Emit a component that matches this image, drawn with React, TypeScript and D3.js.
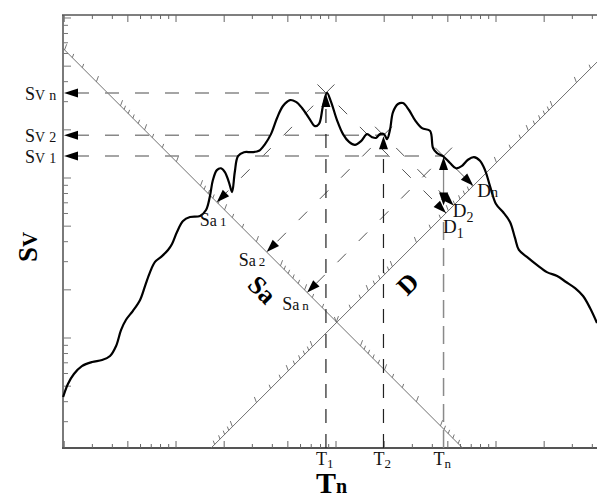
import * as d3 from 'd3';

// period (s) and pseudo-velocity of the response spectrum
const periods = [
  0.0197, 0.0211, 0.023, 0.0258, 0.0299, 0.0345, 0.0387, 0.0422, 0.0453, 0.0487,
  0.0538, 0.0596, 0.064, 0.0688, 0.0739, 0.0817, 0.0891, 0.0944, 0.1014, 0.1106,
  0.1223, 0.1413, 0.154, 0.163, 0.17, 0.18, 0.191, 0.202, 0.214, 0.224,
  0.233, 0.244, 0.266, 0.299, 0.33, 0.36, 0.392, 0.428, 0.466, 0.516,
  0.562, 0.613, 0.678, 0.739, 0.783, 0.829, 0.878, 0.931, 1.014, 1.106,
  1.206, 1.314, 1.433, 1.562, 1.679, 1.778, 1.883, 1.995, 2.084, 2.175,
  2.271, 2.44, 2.62, 2.858, 3.117, 3.447, 3.87, 4.04, 4.28, 4.66,
  5.16, 5.62, 6.13, 6.68, 7.28, 7.94, 8.54, 9.17, 10.0, 11.06,
  12.23, 13.14, 13.9, 15.6, 18.0, 20.8, 24.1, 27.4, 31.2, 35.0,
  38.7, 42.8,
];
const pseudoVelocity = [
  4.28, 5.16, 5.96, 6.68, 7.08, 7.28, 7.72, 8.91, 11.2, 13.0,
  14.8, 17.3, 21.1, 25.8, 29.9, 32.5, 35.5, 38.7, 46.0, 53.8,
  57.0, 57.9, 63.1, 77.2, 97.1, 112, 115, 109, 94.4, 81.7,
  109, 137, 145, 145, 148, 163, 188, 237, 282, 307,
  299, 274, 237, 211, 218, 282, 340, 299, 230, 188,
  168, 161, 170, 188, 180, 178, 188, 188, 175, 200,
  258, 290, 294, 266, 230, 205, 197, 154, 143, 137,
  124, 115, 119, 130, 135, 128, 112, 89.1, 68.8, 61.3,
  53.1, 42.2, 35.5, 32.1, 28.6, 25.8, 24.4, 22.4, 20.5, 18.3,
  15.4, 12.4,
];

// the three marked points on the spectrum
const markPeriods = [0.865, 1.98, 4.7];
const markSv = [340, 185, 137];
const tSubs = ['1', '2', 'n'];
const svSubs = ['n', '2', '1'];
const saSubs = ['1', '2', 'n'];
const dSubs = ['1', '2', 'n'];

// the diagonal axes: Sa axis runs along Sv*T = const, D axis along Sv/T = const
const SA_AXIS_K = 12.7;
const D_AXIS_K = 12.4;

const W = 597;
const H = 496;
const left = 63;
const top = 15;
const bottom = 448;
const FONT = '"Liberation Serif", "Times New Roman", serif';

const x = d3.scaleLog().domain([0.01966, 42.78]).range([left, W]);
const y = d3.scaleLog().domain([2.054, 1044]).range([bottom, top]);

const mant = (v: number) => Math.round(v / Math.pow(10, Math.floor(Math.log10(v) + 1e-9)));
const isLong = (v: number) => [1, 2, 5].includes(mant(v));

function arrowHead(tx: number, ty: number, ux: number, uy: number, len = 12, half = 4) {
  const bx = tx - ux * len;
  const by = ty - uy * len;
  const nx = -uy;
  const ny = ux;
  return `M${tx},${ty}L${bx + nx * half},${by + ny * half}L${bx - nx * half},${by - ny * half}Z`;
}

export default function App() {
  const line = d3
    .line<number>()
    .x((_, i) => x(periods[i]))
    .y((_, i) => y(pseudoVelocity[i]))
    .curve(d3.curveCatmullRom.alpha(0.5));

  const xTicks = x.ticks().filter((t) => x(t) >= left - 0.5 && x(t) <= W);
  const yTicks = y.ticks().filter((t) => y(t) <= bottom && y(t) >= top);

  // Sa axis (value = Sv / (2 pi T)) along Sv*T = SA_AXIS_K
  const saPoint = (a: number) => {
    const T = Math.sqrt(SA_AXIS_K / (2 * Math.PI * a));
    return [x(T), y(SA_AXIS_K / T)];
  };
  const saT0 = x.domain()[0];
  const saT1 = SA_AXIS_K / y.domain()[0];
  const saScale = d3
    .scaleLog()
    .domain([SA_AXIS_K / (2 * Math.PI * saT1 * saT1), SA_AXIS_K / (2 * Math.PI * saT0 * saT0)]);
  const saTicks = saScale.ticks();

  // D axis (value = Sv T / (2 pi)) along Sv/T = D_AXIS_K
  const dPoint = (dv: number) => {
    const T = Math.sqrt((2 * Math.PI * dv) / D_AXIS_K);
    return [x(T), y(D_AXIS_K * T)];
  };
  const dT0 = y.domain()[0] / D_AXIS_K;
  const dT1 = x.domain()[1];
  const dScale = d3
    .scaleLog()
    .domain([(D_AXIS_K * dT0 * dT0) / (2 * Math.PI), (D_AXIS_K * dT1 * dT1) / (2 * Math.PI)]);
  const dTicks = dScale.ticks();

  const saA = [x(saT0), y(SA_AXIS_K / saT0)];
  const saB = [x(saT1), y(SA_AXIS_K / saT1)];
  const dA = [x(dT0), y(D_AXIS_K * dT0)];
  const dB = [x(dT1), y(D_AXIS_K * dT1)];

  const marks = markPeriods.map((T, i) => {
    const sv = markSv[i];
    const px = x(T);
    const py = y(sv);
    // constant-Sa line to the Sa axis
    const r = sv / T;
    const Ta = Math.sqrt(SA_AXIS_K / r);
    const saHit = [x(Ta), y(r * Ta)];
    const saExt = [x(T * 1.13), y(sv * 1.13)];
    // constant-D line to the D axis
    const q = sv * T;
    const Td = Math.sqrt(q / D_AXIS_K);
    const dHit = [x(Td), y(D_AXIS_K * Td)];
    const dExt = [x(T / 1.13), y(sv * 1.13)];
    return { px, py, saHit, saExt, dHit, dExt };
  });

  const diag = Math.SQRT1_2;
  const saLabelOff = [
    [-17, 24],
    [-28, 14],
    [-25, 17],
  ];
  const dLabelOff = [
    [-3, 20],
    [-1, 12],
    [4, 11],
  ];

  return (
    <svg
      width={W}
      height={H}
      style={{ position: 'absolute', left: 0, top: 0, background: '#fff' }}
      fontFamily={FONT}
    >
      {/* frame */}
      <line x1={left} y1={top} x2={left} y2={bottom} stroke="#7a7a7a" strokeWidth={2} />
      <line x1={left - 1} y1={bottom} x2={W} y2={bottom} stroke="#555" strokeWidth={2} />
      <line x1={left - 1} y1={top} x2={W} y2={top} stroke="#555" strokeWidth={1.5} />
      {xTicks.map((t, i) => {
        const len = isLong(t) ? 7 : 4;
        return (
          <g key={`xt${i}`} stroke="#666" strokeWidth={1}>
            <line x1={x(t)} y1={bottom} x2={x(t)} y2={bottom - len} />
            <line x1={x(t)} y1={top} x2={x(t)} y2={top + len} />
          </g>
        );
      })}
      {yTicks.map((t, i) => (
        <line
          key={`yt${i}`}
          x1={left}
          y1={y(t)}
          x2={left + (isLong(t) ? 8 : 5)}
          y2={y(t)}
          stroke="#777"
          strokeWidth={1}
        />
      ))}

      {/* diagonal axes */}
      <line x1={saA[0]} y1={saA[1]} x2={saB[0]} y2={saB[1]} stroke="#707070" strokeWidth={1} />
      <line x1={dA[0]} y1={dA[1]} x2={dB[0]} y2={dB[1]} stroke="#707070" strokeWidth={1} />
      {saTicks.map((a, i) => {
        const [sx, sy] = saPoint(a);
        if (sx < left || sy > bottom) return null;
        const len = isLong(a) ? 6 : 4;
        return (
          <line key={`sa${i}`} x1={sx} y1={sy} x2={sx + 0.35 * len} y2={sy - 0.94 * len} stroke="#666" strokeWidth={0.9} />
        );
      })}
      {dTicks.map((dv, i) => {
        const [sx, sy] = dPoint(dv);
        if (sx > W || sy > bottom) return null;
        const len = isLong(dv) ? 6 : 4;
        return (
          <line key={`dd${i}`} x1={sx} y1={sy} x2={sx - 0.35 * len} y2={sy - 0.94 * len} stroke="#666" strokeWidth={0.9} />
        );
      })}

      {/* construction lines */}
      {marks.map((m, i) => (
        <g key={`m${i}`}>
          {/* horizontal to Sv axis */}
          <line x1={left + 12} y1={m.py} x2={m.px} y2={m.py} stroke="#888" strokeWidth={1.5} strokeDasharray="14,16" />
          <path d={arrowHead(left + 1, m.py, -1, 0, 14, 4.5)} fill="#000" />
          {/* diagonal to Sa axis */}
          <line
            x1={m.saExt[0]}
            y1={m.saExt[1]}
            x2={m.saHit[0]}
            y2={m.saHit[1]}
            stroke="#555"
            strokeWidth={1}
            strokeDasharray="12,18"
          />
          <path d={arrowHead(m.saHit[0], m.saHit[1], -diag, diag, 13, 4.5)} fill="#000" />
          {/* diagonal to D axis */}
          <line
            x1={m.dExt[0]}
            y1={m.dExt[1]}
            x2={m.dHit[0]}
            y2={m.dHit[1]}
            stroke="#555"
            strokeWidth={1}
            strokeDasharray="12,18"
          />
          <path d={arrowHead(m.dHit[0], m.dHit[1], diag, diag, 13, 4.5)} fill="#000" />
        </g>
      ))}

      {/* verticals from the period axis */}
      {marks.map((m, i) => {
        if (i < 2) {
          return (
            <g key={`v${i}`}>
              <line x1={m.px} y1={bottom} x2={m.px} y2={m.py + 10} stroke="#222" strokeWidth={1.2} strokeDasharray="14,11" />
              <path d={arrowHead(m.px, m.py + 1, 0, -1, 13, 4.5)} fill="#000" />
            </g>
          );
        }
        const dY = y(D_AXIS_K * markPeriods[i]);
        return (
          <g key={`v${i}`}>
            <line x1={m.px} y1={bottom} x2={m.px} y2={dY} stroke="#8a8a8a" strokeWidth={1.5} strokeDasharray="18,8" />
            <line x1={m.px} y1={m.py + 8} x2={m.px} y2={dY - 14} stroke="#888" strokeWidth={1.3} />
            <path d={arrowHead(m.px, m.py + 1, 0, -1, 13, 4.5)} fill="#000" />
            <path d={arrowHead(m.px, dY - 10, 0, 1, 13, 4.5)} fill="#000" />
          </g>
        );
      })}

      {/* spectrum */}
      <path d={line(periods) || ''} fill="none" stroke="#000" strokeWidth={2.2} strokeLinejoin="round" />

      {/* Sv labels */}
      {marks.map((m, i) => (
        <text key={`svl${i}`} x={25} y={m.py + 7} fill="#111">
          <tspan fontSize={18}>S</tspan>
          <tspan fontSize={14}>V</tspan>
          <tspan fontSize={14} dx={4}>
            {svSubs[i]}
          </tspan>
        </text>
      ))}

      {/* Sa labels */}
      {marks.map((m, i) => (
        <text key={`sal${i}`} x={m.saHit[0] + saLabelOff[i][0]} y={m.saHit[1] + saLabelOff[i][1]} fill="#111">
          <tspan fontSize={18}>S</tspan>
          <tspan fontSize={16}>a</tspan>
          <tspan fontSize={13} dx={3}>
            {saSubs[i]}
          </tspan>
        </text>
      ))}

      {/* D labels */}
      {marks.map((m, i) => (
        <text key={`dl${i}`} x={m.dHit[0] + dLabelOff[i][0]} y={m.dHit[1] + dLabelOff[i][1]} fill="#111">
          <tspan fontSize={19}>D</tspan>
          <tspan fontSize={14} dy={i === 2 ? 0 : 5}>
            {dSubs[i]}
          </tspan>
        </text>
      ))}

      {/* T labels */}
      {marks.map((m, i) => (
        <text key={`tl${i}`} x={m.px - 10} y={465} fill="#111">
          <tspan fontSize={18}>T</tspan>
          <tspan fontSize={13} dy={3}>
            {tSubs[i]}
          </tspan>
        </text>
      ))}

      {/* axis titles */}
      <text transform="translate(37,262) rotate(-90)" fontSize={27} fontWeight="bold" fill="#000">
        S<tspan fontSize={21}>V</tspan>
      </text>
      <text x={316} y={493} fontSize={30} fontWeight="bold" fill="#000">
        T<tspan fontSize={20}>n</tspan>
      </text>
      <text transform="translate(256,296) rotate(45)" fontSize={26} fontWeight="bold" textAnchor="middle" fill="#000">
        Sa
      </text>
      <text transform="translate(414,290) rotate(-45)" fontSize={26} fontWeight="bold" textAnchor="middle" fill="#000">
        D
      </text>
    </svg>
  );
}
